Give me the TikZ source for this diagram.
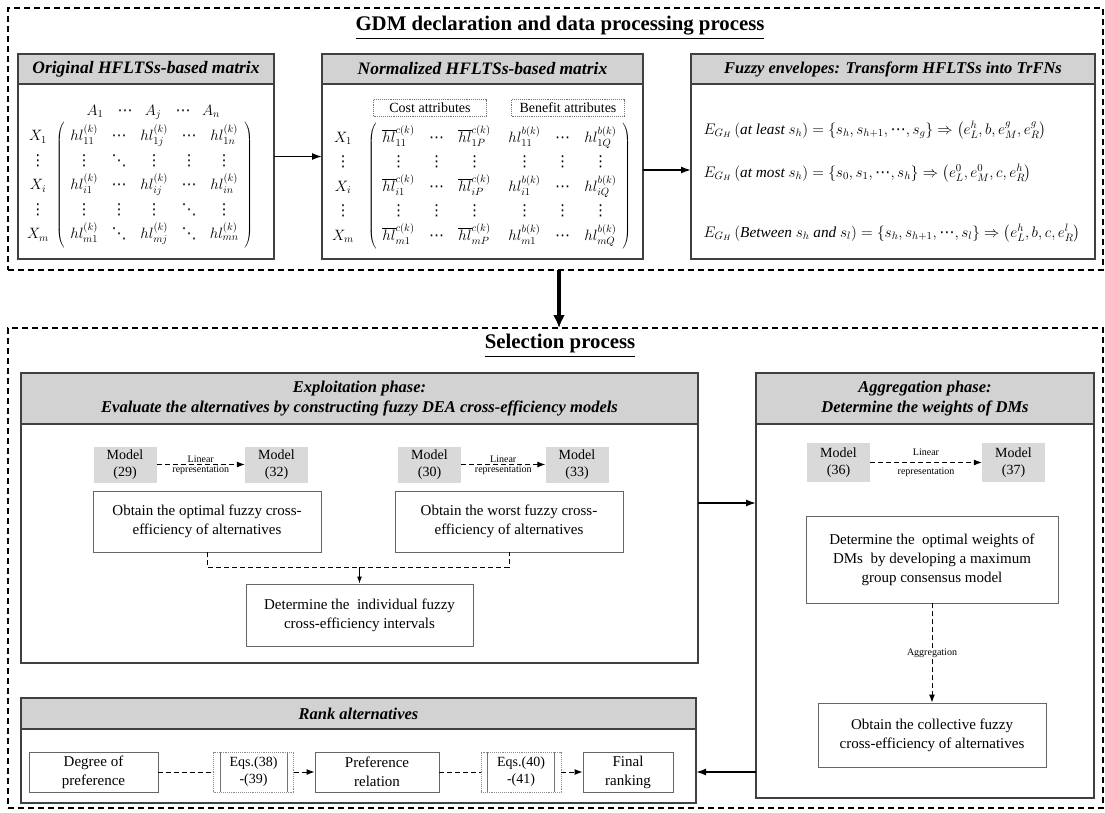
\RequirePackage{fix-cm}
\documentclass[tikz,border=0pt]{standalone}
\usepackage{amsmath}
\usepackage{fontspec}
\setmainfont{Liberation Serif}
\newfontfamily\gdmdots{DejaVu Sans}
\usepackage{tikz}
\usetikzlibrary{arrows.meta,matrix,positioning}

\newcommand{\gdmtitle}{\fontsize{20.8}{24}\selectfont\bfseries}
\newcommand{\gdmhead}{\fontsize{16.5}{20}\selectfont\bfseries\itshape}
\newcommand{\gdmbody}{\fontsize{15}{19}\selectfont}
\newcommand{\gdmmodel}{\fontsize{14}{17}\selectfont}
\newcommand{\gdmsmall}{\fontsize{10}{12}\selectfont}
\newcommand{\gdmmath}{\fontsize{15}{18}\selectfont}
\newcommand{\gdmeq}{\fontsize{15.3}{18}\selectfont}
\newcommand{\mvd}{\text{\gdmdots\char"22EE}}
\newcommand{\mdd}{\text{\gdmdots\char"22F1}}
\newcommand{\mcd}{\text{\gdmdots\char"22EF}}

\begin{document}
\begin{tikzpicture}[x=1pt,y=-1pt,
	outerbox/.style={draw, line width=1.2pt, dash pattern=on 6pt off 4pt, minimum width=1095pt, anchor=north west, outer sep=0pt},
	panel/.style={draw=black!75, line width=1.6pt, fill=white, anchor=north west, inner sep=0pt, outer sep=0pt},
	head/.style={draw=black!75, line width=1.6pt, fill=gray!35, anchor=north west, outer sep=0pt, font=\gdmhead, align=center},
	stepbox/.style={draw=black!60, line width=0.9pt, align=center, font=\gdmbody, inner sep=2pt},
	modelbox/.style={fill=gray!30, align=center, font=\gdmmodel, minimum width=63pt, minimum height=36pt, inner sep=1pt},
	eqbox/.style={draw=black!45, densely dotted, line width=0.9pt, align=center, font=\gdmmodel, minimum width=80pt, minimum height=40pt, inner sep=1pt},
	attbox/.style={draw=black!55, densely dotted, line width=0.9pt, font=\gdmmodel, minimum width=113pt, minimum height=17pt, inner sep=1pt},
	arr/.style={-{Latex[length=10pt,width=7pt]}, line width=1.6pt},
	darr/.style={-{Latex[length=8pt,width=6pt]}, line width=1pt, dash pattern=on 5pt off 3pt},
	dline/.style={line width=1pt, dash pattern=on 5pt off 3pt},
	lbl/.style={font=\gdmsmall, inner sep=1pt},
	mat/.style={matrix of math nodes, left delimiter={(}, right delimiter={)}, row sep={24.5pt,between origins}, nodes={font=\gdmmath, inner sep=1pt}}]
	\useasboundingbox (0,0) rectangle (1105,812);

	\node[outerbox, minimum height=262pt] (gdm) at (8,8) {};
	\node[font=\gdmtitle] at (560,28) {\underline{GDM declaration and data processing process}};

	\node[panel, minimum width=256pt, minimum height=205pt] (orig) at (18,54) {};
	\node[head, minimum width=256pt, minimum height=30pt, font=\fontsize{17.5}{20}\selectfont\bfseries\itshape] at (orig.north west) {Original HFLTSs-based matrix};
	\node[panel, minimum width=321pt, minimum height=205pt] (norm) at (322,54) {};
	\node[head, minimum width=321pt, minimum height=30pt, font=\fontsize{17.5}{20}\selectfont\bfseries\itshape] at (norm.north west) {Normalized HFLTSs-based matrix};
	\node[panel, minimum width=404pt, minimum height=205pt] (fuzzy) at (691,54) {};
	\node[head, minimum width=404pt, minimum height=30pt] at (fuzzy.north west) {Fuzzy envelopes: Transform HFLTSs into TrFNs};

	\foreach \x/\lab in {95/A_1,125/\mcd,153/A_j,183/\mcd,211/A_n}
		\node[anchor=base, font=\gdmmath] at (\x,115) {$\lab$};
	\matrix (om) [mat, column sep={35pt,between origins}] at (154.5,185) {
		hl_{11}^{(k)} & \mcd & hl_{1j}^{(k)} & \mcd & hl_{1n}^{(k)} \\
		\mvd & \mdd & \mvd & \mvd & \mvd \\
		hl_{i1}^{(k)} & \mcd & hl_{ij}^{(k)} & \mcd & hl_{in}^{(k)} \\
		\mvd & \mvd & \mvd & \mdd & \mvd \\
		hl_{m1}^{(k)} & \mdd & hl_{mj}^{(k)} & \mdd & hl_{mn}^{(k)} \\
	};
	\foreach \r/\lab in {1/X_1,2/\mvd,3/X_i,4/\mvd,5/X_m}
		\node[anchor=base, font=\gdmmath] at (om-\r-1.base -| 38,0) {$\lab$};

	\node[attbox] (cost) at (430,108) {Cost attributes};
	\node[attbox] (bene) at (568,108) {Benefit attributes};
	\matrix (nm) [mat, column sep={38pt,between origins}] at (499.5,186) {
		\overline{hl}_{11}^{c(k)} & \mcd & \overline{hl}_{1P}^{c(k)} &[12pt] hl_{11}^{b(k)} & \mcd & hl_{1Q}^{b(k)} \\
		\mvd & \mvd & \mvd & \mvd & \mvd & \mvd \\
		\overline{hl}_{i1}^{c(k)} & \mcd & \overline{hl}_{iP}^{c(k)} & hl_{i1}^{b(k)} & \mcd & hl_{iQ}^{b(k)} \\
		\mvd & \mvd & \mvd & \mvd & \mvd & \mvd \\
		\overline{hl}_{m1}^{c(k)} & \mcd & \overline{hl}_{mP}^{c(k)} & hl_{m1}^{b(k)} & \mcd & hl_{mQ}^{b(k)} \\
	};
	\foreach \r/\lab in {1/X_1,2/\mvd,3/X_i,4/\mvd,5/X_m}
		\node[anchor=base, font=\gdmmath] at (nm-\r-1.base -| 343,0) {$\lab$};

	\node[anchor=west, font=\gdmeq] (eq1) at (700,130) {$E_{G_H}\left(\textit{at least }s_h\right)=\left\{s_h,s_{h+1},\mcd,s_g\right\}\Rightarrow\left(e_L^h,b,e_M^g,e_R^g\right)$};
	\node[anchor=west, font=\gdmeq] (eq2) at (700,173) {$E_{G_H}\left(\textit{at most }s_h\right)=\left\{s_0,s_1,\mcd,s_h\right\}\Rightarrow\left(e_L^0,e_M^0,c,e_R^h\right)$};
	\node[anchor=west, font=\gdmeq] (eq3) at (700,233) {$E_{G_H}\left(\textit{Between }s_h\textit{ and }s_l\right)=\left\{s_h,s_{h+1},\mcd,s_l\right\}\Rightarrow\left(e_L^h,b,c,e_R^l\right)$};

	\draw[arr] (orig) -- (norm);
	\draw[arr] (norm.east |- 0,170) -- (fuzzy.west |- 0,170);

	\node[outerbox, minimum height=480pt] (sel) at (8,328) {};
	\node[font=\gdmtitle] at (560,346) {\underline{Selection process}};
	\draw[line width=4pt, -{Latex[length=13pt,width=12pt]}] (gdm.south -| 559,0) -- (sel.north -| 559,0);

	\node[panel, minimum width=677pt, minimum height=290pt] (expl) at (21,373) {};
	\node[head, minimum width=677pt, minimum height=51pt] at (expl.north west) {Exploitation phase:\\Evaluate the alternatives by constructing fuzzy DEA cross-efficiency models};
	\node[panel, minimum width=338pt, minimum height=425pt] (aggr) at (756,373) {};
	\node[head, minimum width=338pt, minimum height=51pt] at (aggr.north west) {Aggregation phase:\\Determine the weights of DMs};
	\node[panel, minimum width=675pt, minimum height=105pt] (rank) at (21,698) {};
	\node[head, minimum width=675pt, minimum height=31pt] at (rank.north west) {Rank alternatives};

	\node[modelbox] (m29) at (125,464.5) {Model\\(29)};
	\node[modelbox] (m32) at (276.5,464.5) {Model\\(32)};
	\node[modelbox] (m30) at (429.5,464.5) {Model\\(30)};
	\node[modelbox] (m33) at (577,464.5) {Model\\(33)};
	\draw[darr] (m29) -- node[lbl, above=0pt] {Linear} node[lbl, below=0pt] {representation} (m32);
	\draw[darr] (m30) -- node[lbl, above=0pt] {Linear} node[lbl, below=0pt] {representation} (m33);
	\node[stepbox, minimum width=228pt, minimum height=61pt] (opt) at (207,521.5) {Obtain the optimal fuzzy cross-\\efficiency of alternatives};
	\node[stepbox, minimum width=228pt, minimum height=61pt] (worst) at (509,521.5) {Obtain the worst fuzzy cross-\\efficiency of alternatives};
	\node[stepbox, minimum width=227pt, minimum height=62pt] (ind) at (359.5,615) {Determine the~ individual fuzzy\\cross-efficiency intervals};
	\coordinate (mid) at (359.5,567);
	\draw[dline] (opt.south) |- (mid) -| (worst.south);
	\draw[-{Latex[length=7pt,width=5pt]}, line width=1pt] (mid) -- (ind.north);

	\node[modelbox, minimum height=39pt] (m36) at (838.5,462.5) {Model\\(36)};
	\node[modelbox, minimum height=39pt] (m37) at (1013.5,462.5) {Model\\(37)};
	\draw[darr] (m36) -- node[lbl, above=5pt] {Linear} node[lbl, below=4pt] {representation} (m37);
	\node[stepbox, minimum width=252pt, minimum height=87pt] (wopt) at (932,559.5) {Determine the~ optimal weights of\\DMs~ by developing a maximum\\group consensus model};
	\node[stepbox, minimum width=228pt, minimum height=64pt] (coll) at (932,735) {Obtain the collective fuzzy\\cross-efficiency of alternatives};
	\draw[darr] (wopt) -- node[lbl, fill=white] {Aggregation} (coll);

	\node[stepbox, minimum width=129pt, minimum height=40pt] (deg) at (93.5,772) {Degree of\\preference};
	\node[eqbox] (e38) at (253.5,772) {Eqs.(38)\\-(39)};
	\node[stepbox, minimum width=124pt, minimum height=40pt] (pref) at (377,772) {Preference\\relation};
	\node[eqbox] (e40) at (521,772) {Eqs.(40)\\-(41)};
	\node[stepbox, minimum width=90pt, minimum height=40pt] (fin) at (628,772) {Final\\ranking};
	\foreach \e in {e38,e40} {
		\draw[black!55, line width=0.8pt] ([xshift=7pt]\e.north west) -- ([xshift=7pt]\e.south west);
		\draw[black!55, line width=0.8pt] ([xshift=-7pt]\e.north east) -- ([xshift=-7pt]\e.south east);
	}
	\draw[dline] (deg) -- (e38);
	\draw[darr] (e38) -- (pref);
	\draw[dline] (pref) -- (e40);
	\draw[darr] (e40) -- (fin);

	\draw[arr] (expl.east |- 0,503) -- (aggr.west |- 0,503);
	\draw[arr] (aggr.west |- 0,772) -- (rank.east |- 0,772);
\end{tikzpicture}
\end{document}
